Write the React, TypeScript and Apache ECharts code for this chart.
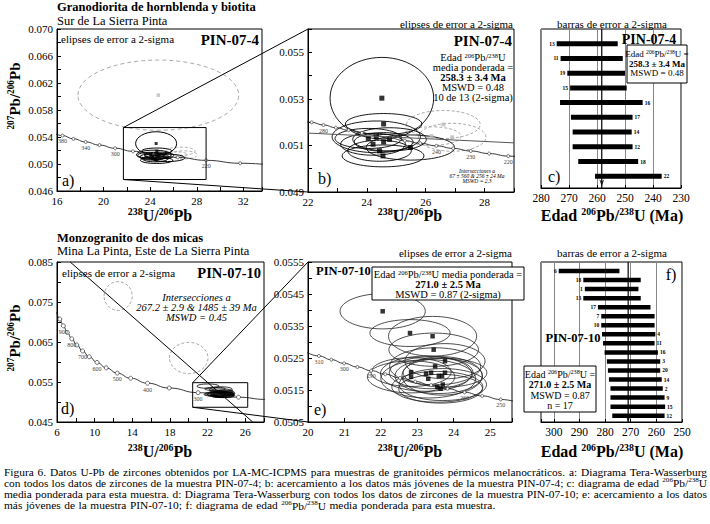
import React, { useEffect, useRef } from 'react';
import * as echarts from 'echarts';

const FONT = 'Liberation Serif';

// ---------------- PIN-07-4 (panels a, b): [238U/206Pb, 207Pb/206Pb, rx, ry] ----------------
const pin4Ellipses = [
  [24.51, 0.05303, 1.76, 0.00175],
  [24.57, 0.05192, 1.3, 0.00045],
  [24.32, 0.05137, 1.5, 0.00068],
  [24.05, 0.0513, 1.13, 0.00043],
  [24.21, 0.05105, 1.1, 0.00047],
  [24.57, 0.05115, 1.0, 0.0004],
  [24.77, 0.05126, 1.25, 0.0005],
  [24.43, 0.05077, 1.08, 0.00045],
  [24.55, 0.05055, 1.39, 0.00047],
  [25.48, 0.05091, 1.5, 0.00054],
];
const pin4Rejected = [
  [26.6, 0.0519, 1.25, 0.0006],
  [26.9, 0.05135, 1.15, 0.0006],
  [26.2, 0.0514, 1.0, 0.0004],
];
const pin4Outlier = [[24.7, 0.0602, 6.9, 0.0052]];
const insetA = [21.7, 28.8, 0.0477, 0.0554];
const regressionB = [[22, 0.05153], [29, 0.05111]];

// Concordia points (age in Ma, x, y)
const concAAges = [180, 200, 220, 240, 260, 280, 300, 320, 340, 360, 380, 400];
const concAX = [35.32, 31.73, 28.805, 26.363, 24.297, 22.527, 20.992, 19.649, 18.46, 17.41, 16.47, 15.621];
const concAY = [0.04968, 0.05011, 0.05054, 0.05098, 0.05143, 0.05188, 0.05233, 0.0528, 0.05327, 0.05373, 0.05421, 0.0547];
const concALabeled = [380, 340, 300, 220];

const concBAges = [215, 220, 225, 230, 235, 240, 245, 250, 255, 260, 265, 270, 275, 280, 285, 290];
const concBX = [29.486, 28.805, 28.154, 27.531, 26.935, 26.363, 25.815, 25.289, 24.783, 24.297, 23.83, 23.379, 22.945, 22.527, 22.123, 21.733];
const concBY = [0.050433, 0.050542, 0.050651, 0.050761, 0.050872, 0.050982, 0.051092, 0.051204, 0.051315, 0.051427, 0.051539, 0.051652, 0.051764, 0.051877, 0.051991, 0.052105];
const concBLabeled = [280, 240, 230, 220];

// bar chart c
const cLabels = ['13', '11', '19', '15', '16', '17', '14', '12', '18', '22'];
const cLo = [252.6, 250.8, 250.0, 249.4, 243.7, 247.3, 247.6, 247.3, 245.3, 236.9];
const cHi = [274.4, 273.0, 270.6, 269.6, 273.2, 269.3, 268.7, 268.7, 266.7, 260.7];
const cSide = ['L', 'L', 'L', 'L', 'R', 'R', 'R', 'R', 'R', 'R'];
const cMean = 258.3;

// ---------------- PIN-07-10 (panels d, e) ----------------
const pin10Ellipses = [
  [22.05, 0.05396, 1.17, 0.00055],
  [22.8, 0.05328, 1.1, 0.00042],
  [23.42, 0.05318, 1.21, 0.00062],
  [23.45, 0.05276, 1.23, 0.00052],
  [23.76, 0.0524, 1.1, 0.00055],
  [23.49, 0.05224, 1.25, 0.00058],
  [22.83, 0.05206, 1.1, 0.00045],
  [22.83, 0.05191, 1.2, 0.0005],
  [23.24, 0.05201, 1.25, 0.00055],
  [23.38, 0.05204, 1.15, 0.0005],
  [23.59, 0.05194, 1.2, 0.00055],
  [23.68, 0.05194, 1.1, 0.0006],
  [23.76, 0.05204, 1.15, 0.00045],
  [23.7, 0.05167, 1.2, 0.0005],
  [23.64, 0.05154, 1.15, 0.00045],
  [23.3, 0.05185, 1.3, 0.0006],
  [23.55, 0.0516, 1.25, 0.00048],
];
const pin10Rejected = [
  [12.5, 0.0765, 1.5, 0.0036],
  [20.0, 0.061, 2.05, 0.0039],
];
const discordiaD = [[7.4, 0.085], [26.8, 0.045]];
const insetD = [20.42, 26.27, 0.04868, 0.05483];

const concDAges = [220, 225, 250, 300, 350, 400, 450, 500, 550, 600, 650, 700, 750, 800, 850, 900, 950, 1000];
const concDX = [28.805, 28.154, 25.289, 20.992, 17.923, 15.621, 13.831, 12.399, 11.228, 10.252, 9.426, 8.718, 8.105, 7.568, 7.095, 6.674, 6.298, 5.959];
const concDY = [0.050542, 0.050651, 0.051204, 0.052333, 0.053498, 0.0547, 0.05594, 0.057219, 0.058539, 0.059901, 0.061306, 0.062757, 0.064254, 0.0658, 0.067395, 0.069042, 0.070743, 0.0725];
const concDLabeled = [300, 400, 500, 600, 700, 800, 900];

const concEAges = [245, 250, 255, 260, 265, 270, 275, 280, 285, 290, 295, 300, 305, 310, 315];
const concEX = [25.815, 25.289, 24.783, 24.297, 23.83, 23.379, 22.945, 22.527, 22.123, 21.733, 21.356, 20.992, 20.64, 20.299, 19.969];
const concEY = [0.051092, 0.051204, 0.051315, 0.051427, 0.051539, 0.051652, 0.051764, 0.051877, 0.051991, 0.052105, 0.052219, 0.052333, 0.052448, 0.052564, 0.052679];
const concELabeled = [310, 300, 290, 260, 250];

// bar chart f
const fLabels = ['6', '18', '1', '13', '17', '7', '10', '4', '11', '16', '3', '20', '14', '2', '9', '15', '12'];
const fLo = [274.4, 266.1, 267.0, 266.1, 262.3, 260.7, 260.7, 260.4, 260.7, 259.4, 258.5, 258.5, 257.9, 257.5, 256.8, 256.6, 256.8];
const fHi = [298.1, 288.5, 287.9, 288.5, 282.8, 281.5, 281.5, 281.2, 280.8, 280.2, 279.3, 278.9, 278.5, 277.9, 277.9, 277.9, 277.2];
const fSide = ['L', 'L', 'L', 'L', 'L', 'L', 'L', 'R', 'R', 'R', 'R', 'R', 'R', 'R', 'R', 'R', 'R'];
const fMean = 271.0;

const captionLines = [
  'Figura 6. Datos U-Pb de zircones obtenidos por LA-MC-ICPMS para muestras de granitoides pérmicos melanocráticos. a: Diagrama Tera-Wasserburg',
  'con todos los datos de zircones de la muestra PIN-07-4; b: acercamiento a los datos más jóvenes de la muestra PIN-07-4; c: diagrama de edad 206Pb/238U',
  'media ponderada para esta muestra. d: Diagrama Tera-Wasserburg con todos los datos de zircones de la muestra PIN-07-10; e: acercamiento a los datos',
  'más jóvenes de la muestra PIN-07-10; f: diagrama de edad 206Pb/238U media ponderada para esta muestra.',
];

// ---------------- layout ----------------
const GRIDS = [
  { left: 57, top: 29, width: 205, height: 162 },
  { left: 308, top: 29, width: 206, height: 163 },
  { left: 541, top: 29, width: 140, height: 159 },
  { left: 57, top: 262, width: 207, height: 160 },
  { left: 308, top: 262, width: 204, height: 160 },
  { left: 541, top: 262, width: 141, height: 160 },
];
const XR = [[16, 33.6], [22, 29], [230, 280], [6, 28], [20, 25.6], [250, 305]];
const YR = [[0.046, 0.07], [0.049, 0.056], [0, 10.8], [0.045, 0.085], [0.0505, 0.0555], [0, 17.7]];

function px(g: number, x: number, y: number) {
  const G = GRIDS[g];
  return [
    G.left + ((x - XR[g][0]) / (XR[g][1] - XR[g][0])) * G.width,
    G.top + ((YR[g][1] - y) / (YR[g][1] - YR[g][0])) * G.height,
  ];
}

const isStep = (v: number, min: number, step: number) => {
  const k = (v - min) / step;
  return Math.abs(k - Math.round(k)) < 1e-4;
};

function richSet(size: number, bold?: boolean, italic?: boolean) {
  const base = { fontFamily: FONT, fontWeight: bold ? 'bold' : 'normal', fontStyle: italic ? 'italic' : 'normal' };
  const ss = Math.round(size * 0.62 * 10) / 10;
  return {
    n: { ...base, fontSize: size, lineHeight: Math.round(size * 1.05), verticalAlign: 'bottom' },
    s: { ...base, fontSize: ss, lineHeight: Math.round(ss), verticalAlign: 'top' },
  };
}

function T(x: number, y: number, text: string, o: any = {}) {
  const size = o.size ?? 11;
  const align = o.align ?? 'left';
  const st: any = {
    text, x: 0, y: 0, fill: o.color ?? '#000', fontFamily: FONT, fontSize: size,
    fontWeight: o.bold ? 'bold' : 'normal', fontStyle: o.italic ? 'italic' : 'normal',
    align, textAlign: align, verticalAlign: 'middle', textVerticalAlign: 'middle',
  };
  if (o.rich) st.rich = richSet(size, o.bold, o.italic);
  return { type: 'text', x, y, rotation: o.rot ?? 0, z: 100, silent: true, style: st };
}

function R(x: number, y: number, w: number, h: number) {
  return { type: 'rect', z: 99, silent: true, shape: { x, y, width: w, height: h }, style: { fill: '#fff', stroke: '#000', lineWidth: 1 } };
}

function L(p1: number[], p2: number[]) {
  return { type: 'line', z: 50, silent: true, shape: { x1: p1[0], y1: p1[1], x2: p2[0], y2: p2[1] }, style: { stroke: '#000', lineWidth: 1 } };
}

function ellipseSeries(g: number, data: number[][], stroke: string, width: number, dash: number[] | null) {
  return {
    type: 'custom', xAxisIndex: g, yAxisIndex: g, data, clip: true, z: 2, silent: true,
    encode: { x: 0, y: 1 },
    renderItem: (_p: any, api: any) => {
      const c = api.coord([api.value(0), api.value(1)]);
      const s = api.size([api.value(2), api.value(3)]);
      return {
        type: 'ellipse',
        shape: { cx: c[0], cy: c[1], rx: s[0], ry: s[1] },
        style: { fill: 'none', stroke, lineWidth: width, lineDash: dash || undefined },
      };
    },
  };
}

function concordiaSeries(g: number, xs: number[], ys: number[], ages: number[], labeled: number[], size: number) {
  return {
    type: 'line', xAxisIndex: g, yAxisIndex: g, smooth: true, smoothMonotone: 'x', showAllSymbol: true,
    symbol: 'circle', symbolSize: size, z: 4, silent: true,
    lineStyle: { color: '#222', width: 0.9 },
    itemStyle: { color: '#fff', borderColor: '#333', borderWidth: 0.7 },
    data: xs.map((x, i) => ({
      value: [x, ys[i]],
      label: labeled.includes(ages[i])
        ? { show: true, formatter: String(ages[i]), position: 'bottom', distance: 1, fontSize: 6, fontFamily: FONT, color: '#444' }
        : { show: false },
    })),
  };
}

function squareSeries(g: number, data: number[][], color: string, size: number) {
  return {
    type: 'scatter', xAxisIndex: g, yAxisIndex: g, symbol: 'rect', symbolSize: size, z: 5, silent: true,
    itemStyle: { color }, data: data.map((d) => [d[0], d[1]]),
  };
}

function polyLine(g: number, pts: number[][], color = '#000', width = 1) {
  return {
    type: 'line', xAxisIndex: g, yAxisIndex: g, symbol: 'none', z: 6, silent: true,
    lineStyle: { color, width }, data: pts,
  };
}

function boxPts(b: number[]) {
  return [[b[0], b[2]], [b[1], b[2]], [b[1], b[3]], [b[0], b[3]], [b[0], b[2]]];
}

function barSeries(g: number, lo: number[], hi: number[], labels: string[], side: string[], h: number) {
  return {
    type: 'custom', xAxisIndex: g, yAxisIndex: g, z: 3, silent: true,
    data: lo.map((v, i) => [v, hi[i], i + 1]),
    encode: { x: [0, 1], y: 2 },
    renderItem: (p: any, api: any) => {
      const a = api.coord([api.value(0), api.value(2)]);
      const b = api.coord([api.value(1), api.value(2)]);
      const x0 = Math.min(a[0], b[0]);
      const x1 = Math.max(a[0], b[0]);
      const left = side[p.dataIndex] === 'L';
      return {
        type: 'group',
        children: [
          { type: 'rect', shape: { x: x0, y: a[1] - h / 2, width: x1 - x0, height: h }, style: { fill: '#000' } },
          {
            type: 'text',
            style: {
              text: labels[p.dataIndex], x: left ? x0 - 2 : x1 + 2, y: a[1],
              align: left ? 'right' : 'left', textAlign: left ? 'right' : 'left',
              verticalAlign: 'middle', textVerticalAlign: 'middle',
              fontSize: 5.5, fontFamily: FONT, fontWeight: 'bold', fill: '#000',
            },
          },
        ],
      };
    },
  };
}

function meanSeries(g: number, mean: number, ymax: number) {
  return [
    polyLine(g, [[mean, 0], [mean, ymax]], '#000', 1.2),
    {
      type: 'scatter', xAxisIndex: g, yAxisIndex: g, z: 7, silent: true,
      symbol: 'path://M0,0L5,10L10,0L5,3Z', symbolSize: [5, 7],
      itemStyle: { color: '#000' }, data: [[mean, ymax - 0.35]],
    },
  ];
}

const axisBase = {
  axisLine: { show: true, onZero: false, lineStyle: { color: '#000', width: 1 } },
  axisTick: { show: true, inside: true, length: 4, lineStyle: { color: '#000', width: 1 } },
  splitLine: { show: false },
};
const lbl = (formatter: (v: number) => string, size = 11) => ({
  color: '#000', fontFamily: FONT, fontSize: size, margin: 4, formatter,
});

function buildCaption() {
  const canvas = document.createElement('canvas');
  const ctx = canvas.getContext('2d') as CanvasRenderingContext2D;
  const measure = (t: string, s: number) => {
    ctx.font = `${s}px "${FONT}"`;
    return ctx.measureText(t).width;
  };
  const SUPW = '206Pb/238U';
  const size = 11.4;
  const supSize = Math.round(size * 0.62 * 10) / 10;
  const wordW = (w: string) => {
    if (w === SUPW) return measure('Pb/U', size) + measure('206238', supSize);
    return measure(w, size);
  };
  const x0 = 4;
  const x1 = 707;
  const ys = [471.5, 482.8, 494.1, 505.4];
  const els: any[] = [];
  captionLines.forEach((line, li) => {
    const ws = line.split(' ');
    const widths = ws.map((w) => wordW(w));
    const total = widths.reduce((a, b) => a + b, 0);
    const space = measure(' ', size);
    const gap = li < 3 ? Math.max(space * 0.6, (x1 - x0 - total) / (ws.length - 1)) : space * 1.25;
    let x = x0;
    ws.forEach((w, i) => {
      if (w === SUPW) {
        els.push(T(x, ys[li], '{s|206}{n|Pb/}{s|238}{n|U}', { size, rich: true }));
      } else {
        els.push(T(x, ys[li], w, { size }));
      }
      x += widths[i] + gap;
    });
  });
  return els;
}

export default function App() {
  const ref = useRef<HTMLDivElement>(null);

  useEffect(() => {
    if (!ref.current) return;
    const chart = echarts.init(ref.current, undefined, { renderer: 'svg' });

    const xAxis: any[] = [
      { gridIndex: 0, type: 'value', min: XR[0][0], max: XR[0][1], interval: 2, ...axisBase,
        axisLabel: lbl((v) => (isStep(v, 16, 4) && v < 33 ? String(v) : '')) },
      { gridIndex: 1, type: 'value', min: XR[1][0], max: XR[1][1], interval: 1, ...axisBase,
        axisLabel: lbl((v) => (isStep(v, 22, 2) ? String(v) : '')) },
      { gridIndex: 2, type: 'value', min: XR[2][0], max: XR[2][1], interval: 10, inverse: true, ...axisBase,
        axisTick: { show: true, inside: true, length: 3, lineStyle: { color: '#000' } },
        splitLine: { show: true, lineStyle: { color: '#888', width: 1 } },
        axisLabel: lbl((v) => String(v), 11.5) },
      { gridIndex: 3, type: 'value', min: XR[3][0], max: XR[3][1], interval: 2, ...axisBase,
        axisLabel: lbl((v) => (isStep(v, 6, 4) && v < 27 ? String(v) : '')) },
      { gridIndex: 4, type: 'value', min: XR[4][0], max: XR[4][1], interval: 1, ...axisBase,
        axisLabel: lbl((v) => (isStep(v, 20, 1) && v < 25.5 ? String(Math.round(v)) : '')) },
      { gridIndex: 5, type: 'value', min: XR[5][0], max: XR[5][1], interval: 10, inverse: true, ...axisBase,
        axisTick: { show: true, inside: true, length: 3, lineStyle: { color: '#000' } },
        splitLine: { show: true, lineStyle: { color: '#888', width: 1 } },
        axisLabel: lbl((v) => (isStep(v, 250, 10) ? String(Math.round(v)) : ''), 11.5) },
    ];
    const yAxis: any[] = [
      { gridIndex: 0, type: 'value', min: YR[0][0], max: YR[0][1], interval: 0.002, ...axisBase,
        axisLabel: lbl((v) => (isStep(v, 0.046, 0.004) ? v.toFixed(3) : '')) },
      { gridIndex: 1, type: 'value', min: YR[1][0], max: YR[1][1], interval: 0.001, ...axisBase,
        axisLabel: lbl((v) => (isStep(v, 0.049, 0.002) && v < 0.0558 ? v.toFixed(3) : '')) },
      { gridIndex: 2, type: 'value', min: YR[2][0], max: YR[2][1], inverse: true, show: false },
      { gridIndex: 3, type: 'value', min: YR[3][0], max: YR[3][1], interval: 0.005, ...axisBase,
        axisLabel: lbl((v) => (isStep(v, 0.045, 0.01) ? v.toFixed(3) : '')) },
      { gridIndex: 4, type: 'value', min: YR[4][0], max: YR[4][1], interval: 0.0005, ...axisBase,
        axisLabel: lbl((v) => (isStep(v, 0.0505, 0.001) ? v.toFixed(4) : '')) },
      { gridIndex: 5, type: 'value', min: YR[5][0], max: YR[5][1], inverse: true, show: false },
    ];

    const series: any[] = [
      // a
      ellipseSeries(0, pin4Outlier, '#aaa', 1, [4, 3]),
      ellipseSeries(0, pin4Rejected, '#aaa', 0.9, [3, 2]),
      ellipseSeries(0, pin4Ellipses, '#000', 1, null),
      concordiaSeries(0, concAX, concAY, concAAges, concALabeled, 3),
      squareSeries(0, pin4Outlier, '#bbb', 3.5),
      squareSeries(0, pin4Ellipses, '#000', 3),
      polyLine(0, boxPts(insetA)),
      // b
      ellipseSeries(1, pin4Rejected, '#aaa', 1, [3, 2]),
      ellipseSeries(1, pin4Ellipses, '#000', 0.9, null),
      polyLine(1, regressionB, '#555', 1),
      concordiaSeries(1, concBX, concBY, concBAges, concBLabeled, 3),
      squareSeries(1, pin4Rejected, '#bbb', 4),
      squareSeries(1, pin4Ellipses, '#000', 5),
      // c
      barSeries(2, cLo, cHi, cLabels, cSide, 5),
      ...meanSeries(2, cMean, YR[2][1]),
      // d
      ellipseSeries(3, pin10Rejected, '#aaa', 1, [3, 2]),
      ellipseSeries(3, pin10Ellipses, '#000', 0.8, null),
      concordiaSeries(3, concDX, concDY, concDAges, concDLabeled, 4),
      polyLine(3, discordiaD),
      polyLine(3, boxPts(insetD)),
      // e
      ellipseSeries(4, pin10Ellipses, '#222', 0.8, null),
      concordiaSeries(4, concEX, concEY, concEAges, concELabeled, 3),
      squareSeries(4, pin10Ellipses, '#000', 4.5),
      // f
      barSeries(5, fLo, fHi, fLabels, fSide, 4.5),
      ...meanSeries(5, fMean, YR[5][1]),
    ];

    const yName = '{s|207}{n|Pb/}{s|206}{n|Pb}';
    const xName = '{s|238}{n|U/}{s|206}{n|Pb}';
    const ageName = '{n|Edad }{s|206}{n|Pb/}{s|238}{n|U (Ma)}';
    const edad = '{n|Edad }{s|206}{n|Pb/}{s|238}{n|U =}';

    const graphics: any[] = [
      // titles
      T(57, 7, 'Granodiorita de hornblenda y biotita', { size: 12.5, bold: true }),
      T(57, 20.5, 'Sur de La Sierra Pinta', { size: 12.5 }),
      T(57, 237.5, 'Monzogranito de dos micas', { size: 12.5, bold: true }),
      T(57, 251, 'Mina La Pinta, Este de La Sierra Pinta', { size: 12.5 }),
      // a
      T(61, 39, 'elipses de error a 2-sigma', { size: 11 }),
      T(259, 40, 'PIN-07-4', { size: 15, bold: true, align: 'right' }),
      T(62, 180, 'a)', { size: 16 }),
      T(14, 96, yName, { size: 15, bold: true, rich: true, align: 'center', rot: Math.PI / 2 }),
      T(160, 215, xName, { size: 16, bold: true, rich: true, align: 'center' }),
      // b
      T(513, 24, 'elipses de error a 2-sigma', { size: 11, align: 'right' }),
      T(512, 41, 'PIN-07-4', { size: 15, bold: true, align: 'right' }),
      T(473, 57, '{n|Edad }{s|206}{n|Pb/}{s|238}{n|U}', { size: 10.5, rich: true, align: 'center' }),
      T(473, 67.5, 'media ponderada =', { size: 10.5, align: 'center' }),
      T(473, 77, '258.3 ± 3.4 Ma', { size: 10.5, bold: true, align: 'center' }),
      T(473, 87, 'MSWD = 0.48', { size: 10.5, align: 'center' }),
      T(473, 97, '10 de 13 (2-sigma)', { size: 10.5, align: 'center' }),
      T(318, 178, 'b)', { size: 16 }),
      T(477, 170.5, 'Intersecciones a', { size: 5.5, italic: true, align: 'center' }),
      T(477, 175.5, '67 ± 560 & 256 ± 24 Ma', { size: 5.5, italic: true, align: 'center' }),
      T(477, 180.5, 'MSWD = 2.3', { size: 5.5, italic: true, align: 'center' }),
      T(410, 215, xName, { size: 16, bold: true, rich: true, align: 'center' }),
      // c
      T(612, 24, 'barras de error a 2-sigma', { size: 11, align: 'center' }),
      T(649, 39, 'PIN-07-4', { size: 14, bold: true, align: 'center' }),
      R(627, 45, 60, 38),
      T(657, 53.5, edad, { size: 9, rich: true, align: 'center' }),
      T(657, 63.5, '258.3 ± 3.4 Ma', { size: 9, bold: true, align: 'center' }),
      T(657, 73, 'MSWD = 0.48', { size: 9, align: 'center' }),
      T(548, 176, 'c)', { size: 16 }),
      T(612, 215, ageName, { size: 16, bold: true, rich: true, align: 'center' }),
      // d
      T(62, 273, 'elipses de error a 2-sigma', { size: 11 }),
      T(261, 273, 'PIN-07-10', { size: 14.5, bold: true, align: 'right' }),
      T(196.5, 297, 'Intersecciones a', { size: 10.5, italic: true, align: 'center' }),
      T(196.5, 307, '267.2 ± 2.9 & 1485 ± 39 Ma', { size: 10.5, italic: true, align: 'center' }),
      T(196.5, 317, 'MSWD = 0.45', { size: 10.5, italic: true, align: 'center' }),
      T(61, 408, 'd)', { size: 16 }),
      T(14, 338, yName, { size: 15, bold: true, rich: true, align: 'center', rot: Math.PI / 2 }),
      T(160, 451, xName, { size: 16, bold: true, rich: true, align: 'center' }),
      // e
      T(512, 253, 'elipses de error a 2-sigma', { size: 11, align: 'right' }),
      T(316, 271, 'PIN-07-10', { size: 12.5, bold: true }),
      R(372, 267, 152, 33),
      T(448, 274.5, '{n|Edad }{s|206}{n|Pb/}{s|238}{n|U media ponderada =}', { size: 10.5, rich: true, align: 'center' }),
      T(448, 284.5, '271.0 ± 2.5 Ma', { size: 10.5, bold: true, align: 'center' }),
      T(448, 294, 'MSWD = 0.87 (2-sigma)', { size: 10.5, align: 'center' }),
      T(314, 409, 'e)', { size: 16 }),
      T(410, 451, xName, { size: 16, bold: true, rich: true, align: 'center' }),
      // f
      T(612, 253, 'barras de error a 2-sigma', { size: 11, align: 'center' }),
      T(671, 274, 'f)', { size: 16, align: 'center' }),
      T(573, 338, 'PIN-07-10', { size: 12.5, bold: true, align: 'center' }),
      R(524, 366, 72, 46),
      T(560, 374, edad, { size: 10, rich: true, align: 'center' }),
      T(560, 384.5, '271.0 ± 2.5 Ma', { size: 10, bold: true, align: 'center' }),
      T(560, 395, 'MSWD = 0.87', { size: 10, align: 'center' }),
      T(560, 405.5, 'n = 17', { size: 10, align: 'center' }),
      T(612, 451, ageName, { size: 16, bold: true, rich: true, align: 'center' }),
      // zoom connectors
      L(px(0, insetA[0], insetA[3]), [GRIDS[1].left, GRIDS[1].top]),
      L(px(0, insetA[0], insetA[2]), [GRIDS[1].left, GRIDS[1].top + GRIDS[1].height]),
      L(px(3, insetD[0], insetD[3]), [GRIDS[4].left, GRIDS[4].top]),
      L(px(3, insetD[0], insetD[2]), [GRIDS[4].left, GRIDS[4].top + GRIDS[4].height]),
      ...buildCaption(),
    ];

    chart.setOption({
      animation: false,
      backgroundColor: '#fff',
      textStyle: { fontFamily: FONT },
      grid: GRIDS.map((g) => ({ ...g, show: true, borderColor: '#000', borderWidth: 1, backgroundColor: 'transparent' })),
      xAxis,
      yAxis,
      series,
      graphic: { elements: graphics },
    });

    return () => chart.dispose();
  }, []);

  return (
    <div
      ref={ref}
      style={{ position: 'absolute', left: 0, top: 0, width: 710, height: 524, background: '#fff' }}
    />
  );
}
